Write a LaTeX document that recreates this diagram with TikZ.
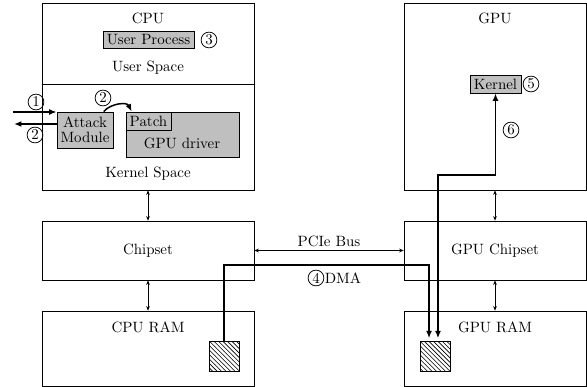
\documentclass[tikz,border=0pt]{standalone}
\usetikzlibrary{arrows.meta,patterns}
\begin{document}
\def\u{0.67pt}
\begin{tikzpicture}[x=0.67pt,y=-0.67pt,
  box/.style 2 args={draw, line width=0.5pt, inner sep=0pt, minimum width={#1*\u}, minimum height={#2*\u}},
  gbox/.style 2 args={box={#1}{#2}, fill=black!25},
  hatch/.style={draw, line width=0.6pt, inner sep=0pt, minimum width={30*\u}, minimum height={30*\u}, pattern=north west lines},
  num/.style={draw, circle, line width=0.5pt, inner sep=0pt, minimum size=10.6pt},
  thinarr/.style={line width=0.4pt, {Stealth[length=3pt,width=2.4pt]}-{Stealth[length=3pt,width=2.4pt]}},
  thickline/.style={line width=1.3pt},
  tip/.style={-{Latex[length=5pt,width=4pt]}}
]
\useasboundingbox (0,0) rectangle (587,387);
% CPU
\node[box={212}{187}] (cpu) at (148,96.5) {};
\coordinate (div) at (0,84);
\draw[line width=0.5pt] (cpu.west |- div) -- (cpu.east |- div);
\node (cputxt) at (148,18) {CPU};
\node[gbox={91}{17}] (uproc) at (148.5,39.5) {User Process};
\node[num] (c3) at (209,40) {3};
\node (ustxt) at (148,68) {User Space};
\node (kstxt) at (148,174) {Kernel Space};
\node[gbox={56}{36}, align=center] (attack) at (85,130) {Attack\\[-2pt]Module};
\node[gbox={113}{45}] (driver) at (182.5,134.5) {};
\node (drvtxt) at (182,143) {GPU driver};
\node[box={45}{18}, fill=black!25] (patch) at (148.5,121) {Patch};
\node[num] (c1) at (36,102) {1};
\node[num] (c2a) at (35,135) {2};
\node[num] (c2b) at (103,98) {2};
\coordinate (in1) at (13,112);
\coordinate (out1) at (14,124);
\draw[thickline, tip] (in1) -- (attack.west |- in1);
\draw[thickline, tip] (attack.west |- out1) -- (out1);
\draw[line width=1pt, tip] ([xshift=12.5pt]attack.north) to[out=50,in=115] ([xshift=4pt]patch.north west);
% GPU
\node[box={182}{187}] (gpu) at (495,96.5) {};
\node (gputxt) at (495,18) {GPU};
\node[gbox={51}{18}] (kernel) at (495.5,84) {Kernel};
\node[num] (c5) at (531,84) {5};
\node[num] (c6) at (511,130) {6};
% chipsets and RAM
\node[box={212}{59}] (chipset) at (148,250.5) {Chipset};
\node[box={182}{59}] (gpuchip) at (495,250.5) {GPU Chipset};
\node[box={212}{75}] (cpuram) at (148,348.5) {};
\node[box={182}{75}] (gpuram) at (495,348.5) {};
\node (cramtxt) at (148,327) {CPU RAM};
\node (gramtxt) at (495,327) {GPU RAM};
\node[hatch] (h1) at (224,356.5) {};
\node[hatch] (h2) at (435,356) {};
% thin links
\draw[thinarr] (cpu.south) -- (chipset.north);
\draw[thinarr] (chipset.south) -- (cpuram.north);
\draw[thinarr] (gpu.south) -- (gpuchip.north);
\draw[thinarr] (gpuchip.south) -- (gpuram.north);
\draw[thinarr] (chipset.east) -- node[above=-1pt] {PCIe Bus} (gpuchip.west);
% DMA
\coordinate (dmay) at (0,265);
\coordinate (dmaend) at ([xshift=-4pt]h2.north);
\draw[thickline, tip, shorten >=1.5pt] (h1.north) -- (h1.north |- dmay) -- (dmaend |- dmay) -- (dmaend);
\node[num] (c4) at (316,278) {4};
\node[anchor=west, inner sep=1pt] (dmatxt) at (323,278) {DMA};
% kernel path
\coordinate (ky) at (0,175);
\coordinate (kend) at ([xshift=2pt]h2.north);
\draw[thickline, {Latex[length=5pt,width=4pt]}-{Latex[length=5pt,width=4pt]}, shorten <=1.5pt] (kend) -- (kend |- ky) -- (kernel.south |- ky) -- (kernel.south);
\end{tikzpicture}
\end{document}
